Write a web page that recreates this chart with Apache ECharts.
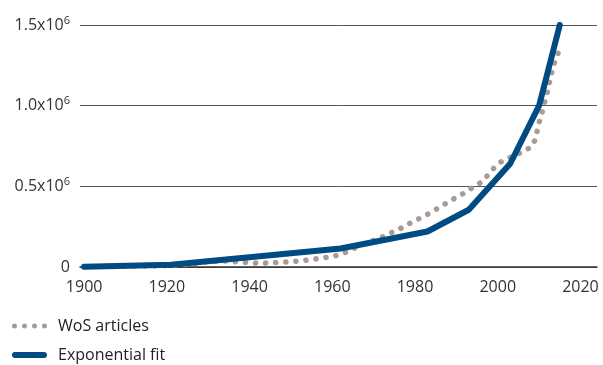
<!DOCTYPE html>
<html>
<head>
<meta charset="utf-8">
<script src="https://cdn.jsdelivr.net/npm/echarts@6/dist/echarts.min.js"></script>
<style>html,body{margin:0;padding:0;background:#fff}#c{width:603px;height:365px}</style>
</head>
<body>
<div id="c"></div>
<script>
const wosYears = [1900,1905,1910,1915,1920,1923,1925,1928,1930,1933,1935,1937,1940,1942,1945,1947,1950,1952,1955,1957,1960,1962,1964,1966,1968,1970,1972,1974,1976,1978,1980,1982,1984,1986,1988,1990,1992,1994,1996,1998,2000,2002,2004,2006,2008,2009,2010,2011,2012,2013,2014,2015];
const wosValues = [3000,4000,5000,6000,8000,12000,17000,27000,33000,37000,37000,32000,27000,23000,25000,29000,33000,37000,46000,54000,65000,78000,100000,124000,146000,165000,185000,210000,232000,260000,288000,312000,340000,372000,402000,432000,460000,495000,525000,580000,640000,668000,690000,715000,742000,785000,895000,985000,1085000,1200000,1290000,1350000];
const fitYears = [1900,1921,1962,1983,1993,2003,2010,2015];
const fitValues = [2000,14000,115000,220000,355000,640000,1000000,1500000];
const yTicks = {0:'0', 500000:'0.5x10', 1000000:'1.0x10', 1500000:'1.5x10'};
const xTickStep = 20;

const dotsIcon = 'path://M0.5,3a2.5,2.5 0 1,0 5,0a2.5,2.5 0 1,0 -5,0Z M10.5,3a2.5,2.5 0 1,0 5,0a2.5,2.5 0 1,0 -5,0Z M20.5,3a2.5,2.5 0 1,0 5,0a2.5,2.5 0 1,0 -5,0Z M30.5,3a2.5,2.5 0 1,0 5,0a2.5,2.5 0 1,0 -5,0Z';
const barIcon = 'path://M3,0H33A3,3 0 0,1 33,6H3A3,3 0 0,1 3,0Z';

const chart = echarts.init(document.getElementById('c'), null, {renderer:'canvas'});
const font = 'Open Sans';
chart.setOption({
  animation: false,
  textStyle: {fontFamily: font},
  grid: {left: 80, right: 6, top: 25, bottom: 98, containLabel: false},
  legend: {
    orient: 'vertical', left: 12, top: 318, padding: 0, itemGap: 13,
    width: 250, height: 47,
    itemWidth: 35, itemHeight: 6,
    textStyle: {fontFamily: font, fontSize: 16, color: '#222', padding: [0, 0, 0, 6]},
    data: [
      {name: 'WoS articles', icon: dotsIcon, itemStyle: {color: '#a69c95'}},
      {name: 'Exponential fit', icon: barIcon, itemStyle: {color: '#004b84'}}
    ]
  },
  xAxis: {
    type: 'value', min: 1899, max: 2024, interval: 1,
    axisLine: {show: true, lineStyle: {color: '#333', width: 1.5}},
    axisTick: {show: false},
    splitLine: {show: false},
    axisLabel: {
      margin: 12, fontSize: 16, color: '#333', fontFamily: font,
      formatter: v => (v % xTickStep === 0 ? String(v) : '')
    }
  },
  yAxis: {
    type: 'value', min: 0, max: 1500000, interval: 500000,
    axisLine: {show: false}, axisTick: {show: false},
    splitLine: {lineStyle: {color: '#555', width: 1}},
    axisLabel: {
      margin: 10, color: '#333', fontFamily: font,
      formatter: v => v === 0 ? '{b|0}' : '{b|' + yTicks[v] + '}{s|6}',
      rich: {
        b: {fontSize: 16, color: '#333', fontFamily: font},
        s: {fontSize: 11, color: '#333', fontFamily: font, padding: [0, 0, 9, 0]}
      }
    }
  },
  series: [
    {
      name: 'WoS articles', type: 'line', symbol: 'none', smooth: false,
      data: wosYears.map((y, i) => [y, wosValues[i]]),
      lineStyle: {color: '#a69c95', width: 5.5, type: [0.1, 10], cap: 'round'},
      itemStyle: {color: '#a69c95'},
      z: 2
    },
    {
      name: 'Exponential fit', type: 'line', symbol: 'none', smooth: false,
      data: fitYears.map((y, i) => [y, fitValues[i]]),
      lineStyle: {color: '#004b84', width: 6, cap: 'round', join: 'round'},
      itemStyle: {color: '#004b84'},
      z: 3
    }
  ]
});
</script>
</body>
</html>
